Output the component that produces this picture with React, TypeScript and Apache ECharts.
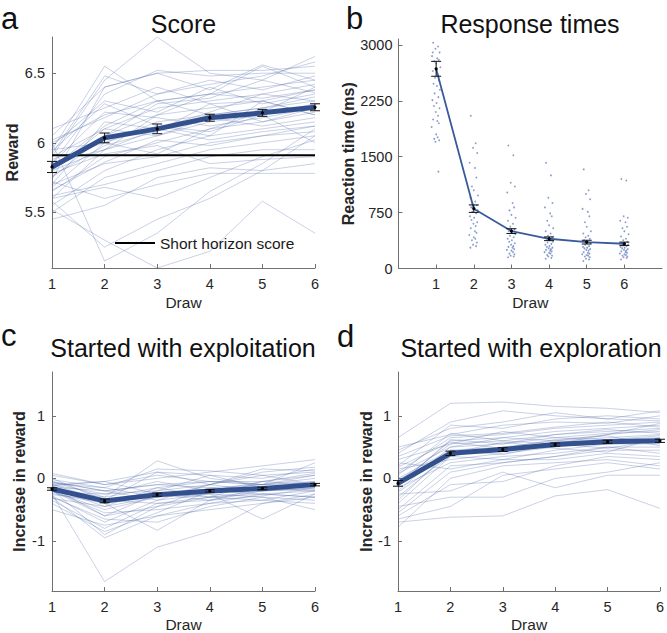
import React, { useEffect, useRef } from 'react';
import * as echarts from 'echarts';

const FONT = "'Liberation Sans', Arial, Helvetica, sans-serif";

const draws = [1, 2, 3, 4, 5, 6];

// Panel a: Score
const scoreTicks = [5.5, 6, 6.5];
const scoreMean = [5.826, 6.035, 6.1, 6.18, 6.215, 6.255];
const scoreSem = [0.04, 0.035, 0.035, 0.025, 0.025, 0.025];
const shortHorizonScore = 5.91;
const scoreSubjects = [
  [5.95, 6.55, 6.3, 6.35, 6.55, 6.4],
  [5.9, 6.45, 6.76, 6.5, 6.45, 6.62],
  [6.05, 6.4, 6.5, 6.52, 6.52, 6.55],
  [5.85, 6.35, 6.52, 6.48, 6.5, 6.5],
  [6.0, 6.2, 6.3, 6.35, 6.4, 6.45],
  [5.8, 6.1, 6.25, 6.3, 6.35, 6.42],
  [5.75, 6.05, 6.2, 6.25, 6.3, 6.38],
  [5.7, 6.15, 6.1, 6.22, 6.35, 6.3],
  [5.95, 6.0, 6.15, 6.2, 6.25, 6.33],
  [5.6, 5.95, 6.05, 6.15, 6.2, 6.28],
  [5.85, 6.22, 6.18, 6.12, 6.18, 6.25],
  [5.65, 5.9, 6.0, 6.1, 6.15, 6.22],
  [6.1, 6.25, 6.4, 6.28, 6.3, 6.2],
  [5.9, 6.1, 6.05, 6.18, 6.12, 6.18],
  [5.55, 5.8, 5.95, 6.05, 6.1, 6.15],
  [5.8, 5.95, 6.1, 6.02, 6.08, 6.12],
  [5.7, 5.85, 5.9, 6.0, 6.05, 6.08],
  [5.98, 6.3, 6.22, 6.4, 6.28, 6.35],
  [5.5, 5.75, 5.85, 5.95, 6.0, 6.05],
  [5.88, 6.0, 6.12, 6.08, 6.2, 6.0],
  [5.62, 5.7, 5.8, 5.9, 5.95, 5.95],
  [5.78, 5.92, 5.98, 5.85, 5.88, 5.9],
  [5.45, 5.55, 5.75, 5.82, 5.8, 5.85],
  [5.72, 5.6, 5.7, 5.78, 5.78, 5.78],
  [6.0, 5.15, 5.35, 5.65, 5.85, 6.1],
  [5.52, 5.3, 5.1, 5.22, 5.58, 5.35],
  [5.58, 5.25, 5.45, 5.6, 5.8, 6.05],
  [5.92, 6.48, 6.35, 6.45, 6.38, 6.48],
  [5.84, 6.05, 6.28, 6.32, 6.45, 6.36],
  [5.68, 6.0, 5.92, 6.1, 6.22, 6.4],
  [6.02, 6.18, 6.35, 6.42, 6.48, 6.58],
  [5.76, 5.98, 6.08, 6.28, 6.15, 6.25],
  [5.66, 5.86, 6.02, 5.98, 6.05, 6.12],
  [5.94, 6.28, 6.12, 6.05, 6.3, 6.2],
  [5.82, 6.12, 6.3, 6.2, 6.25, 6.3],
  [5.6, 5.68, 5.6, 5.75, 5.9, 6.02],
  [5.74, 6.4, 6.5, 6.38, 6.56, 6.45],
  [5.86, 5.95, 6.2, 6.35, 6.32, 6.38],
];

// Panel b: Response times
const rtTicks = [0, 750, 1500, 2250, 3000];
const rtMean = [2680, 803, 502, 399, 354, 332];
const rtSem = [100, 50, 32, 25, 25, 22];
const rtJitter = [
  -0.08, 0.05, -0.02, 0.09, -0.11, 0.03, 0.07, -0.05, 0.0, 0.11, -0.09, 0.04,
  -0.03, 0.08, -0.07, 0.02, 0.1, -0.04, 0.06, -0.1, 0.01, -0.06, 0.09, -0.01,
  0.05, -0.08, 0.03, 0.07, -0.12, 0.0, 0.04, -0.05, 0.08, -0.02, 0.06, -0.09,
];
const rtDraw1 = [3030, 2980, 2950, 2900, 2850, 2820, 2800, 2780, 2750, 2700, 2650, 2600, 2560, 2520, 2480, 2450, 2400, 2350, 2300, 2260, 2220, 2180, 2150, 2100, 2050, 2000, 1980, 1950, 1900, 1800, 1760, 1740, 1720, 1700, 1300, 2900];
const rtDraw2 = [2050, 1680, 1620, 1550, 1420, 1350, 1220, 1100, 1050, 980, 950, 900, 870, 850, 820, 800, 780, 760, 740, 700, 680, 650, 620, 600, 570, 540, 500, 480, 450, 420, 400, 380, 350, 320, 300, 280];
const rtDraw3 = [1650, 1520, 1150, 1100, 1020, 880, 820, 780, 720, 680, 640, 600, 560, 520, 500, 480, 460, 440, 420, 400, 380, 360, 340, 320, 300, 290, 280, 260, 250, 240, 220, 200, 190, 170, 160, 150];
const rtDraw4 = [1420, 1250, 950, 880, 820, 740, 700, 640, 580, 540, 500, 470, 440, 420, 400, 380, 360, 350, 330, 320, 300, 290, 280, 270, 260, 250, 240, 230, 220, 210, 200, 180, 170, 160, 140, 130];
const rtDraw5 = [1330, 1050, 1000, 930, 800, 760, 700, 620, 560, 500, 470, 440, 420, 400, 380, 360, 340, 320, 300, 290, 280, 270, 260, 250, 240, 220, 210, 200, 190, 180, 170, 160, 150, 130, 120, 100];
const rtDraw6 = [1200, 1180, 700, 680, 640, 620, 560, 540, 500, 460, 430, 400, 380, 360, 340, 330, 320, 310, 300, 290, 280, 270, 260, 250, 240, 230, 220, 210, 200, 190, 180, 170, 160, 150, 140, 120];
const rtByDraw = [rtDraw1, rtDraw2, rtDraw3, rtDraw4, rtDraw5, rtDraw6];

// Panels c, d
const gainTicks = [-1, 0, 1];
const exploitMean = [-0.17, -0.36, -0.26, -0.2, -0.16, -0.1];
const exploitSem = [0.02, 0.03, 0.025, 0.02, 0.02, 0.02];
const exploitSubjects = [
  [-0.1, -0.35, -0.25, -0.2, -0.15, -0.1],
  [-0.2, -0.5, -0.3, -0.18, -0.1, -0.05],
  [-0.05, -0.2, -0.1, -0.15, -0.2, -0.12],
  [0.05, -0.1, 0.05, -0.05, -0.1, 0.0],
  [-0.3, -0.95, -0.6, -0.4, -0.25, -0.2],
  [-0.15, -0.6, -0.45, -0.3, -0.2, -0.15],
  [-0.25, -1.65, -1.1, -0.85, -0.4, -0.3],
  [-0.1, -0.05, 0.1, 0.05, 0.0, 0.15],
  [-0.18, -0.3, 0.28, 0.0, -0.1, 0.05],
  [-0.35, -0.8, -0.4, -0.3, -0.25, -0.3],
  [-0.12, -0.4, -0.83, -0.35, -0.15, -0.2],
  [-0.22, -0.25, -0.2, -0.1, 0.05, 0.1],
  [-0.08, -0.15, -0.3, -0.25, -0.65, -0.25],
  [-0.28, -0.7, -0.35, -0.25, -0.3, -0.5],
  [-0.16, -0.45, -0.15, -0.05, -0.1, 0.25],
  [0.08, -0.1, 0.0, 0.1, 0.2, 0.3],
  [-0.2, -0.55, -0.5, -0.4, -0.35, -0.4],
  [-0.4, -0.85, -0.55, -0.2, -0.05, 0.05],
  [-0.14, -0.2, -0.35, -0.1, -0.2, -0.15],
  [-0.05, -0.3, -0.15, -0.3, -0.05, -0.1],
  [-0.3, -0.65, -0.7, -0.45, -0.3, -0.35],
  [-0.24, -0.4, -0.2, 0.05, -0.15, -0.05],
  [-0.1, -0.25, -0.05, -0.2, -0.25, -0.3],
  [-0.5, -0.75, -0.6, -0.5, -0.4, -0.25],
  [-0.02, -0.15, 0.15, 0.12, 0.05, -0.1],
  [-0.26, -0.35, -0.4, -0.35, -0.2, -0.18],
  [-0.18, -0.9, -0.45, -0.15, -0.1, -0.08],
  [-0.12, -0.05, -0.25, -0.3, -0.35, -0.2],
  [-0.32, -0.45, -0.3, -0.1, 0.1, 0.18],
  [-0.06, -0.2, -0.1, -0.05, -0.05, 0.08],
  [-0.2, -0.6, -0.25, -0.35, -0.28, -0.15],
  [0.0, -0.35, 0.1, -0.1, 0.15, 0.12],
];

const exploreMean = [-0.08, 0.4, 0.46, 0.54, 0.585, 0.6];
const exploreSem = [0.045, 0.035, 0.03, 0.025, 0.025, 0.025];
const exploreSubjects = [
  [0.65, 1.2, 1.22, 1.15, 1.12, 1.05],
  [0.4, 0.9, 1.08, 1.0, 0.95, 1.08],
  [0.2, 0.85, 0.8, 0.95, 1.0, 0.95],
  [0.5, 0.7, 0.85, 0.9, 0.88, 1.0],
  [0.1, 0.65, 0.7, 0.8, 0.85, 0.9],
  [-0.1, 0.6, 0.65, 0.75, 0.8, 0.85],
  [0.3, 0.55, 0.6, 0.7, 0.75, 0.8],
  [-0.2, 0.5, 0.55, 0.65, 0.72, 0.75],
  [0.0, 0.45, 0.5, 0.6, 0.65, 0.7],
  [-0.3, 0.4, 0.45, 0.58, 0.62, 0.65],
  [0.15, 0.3, 0.4, 0.5, 0.6, 0.6],
  [-0.4, 0.35, 0.3, 0.45, 0.55, 0.55],
  [-0.15, 0.25, 0.35, 0.4, 0.5, 0.5],
  [-0.5, 0.2, 0.25, 0.35, 0.45, 0.45],
  [0.25, 0.15, 0.3, 0.3, 0.4, 0.35],
  [-0.6, -0.1, -0.05, 0.2, 0.35, 0.3],
  [-0.7, -0.62, -0.6, -0.28, -0.18, -0.48],
  [-0.45, -0.3, -0.3, 0.0, 0.1, 0.25],
  [-0.78, 0.0, 0.2, 0.25, 0.3, 0.2],
  [-0.25, -0.2, 0.1, -0.15, 0.05, 0.05],
  [0.05, 0.72, 0.6, 0.55, 0.7, 0.78],
  [-0.05, 0.55, 0.75, 0.65, 0.62, 0.68],
  [0.35, 0.68, 0.72, 0.82, 0.9, 0.82],
  [-0.35, 0.45, 0.38, 0.55, 0.48, 0.62],
  [-0.55, 0.1, 0.25, 0.35, 0.5, 0.4],
  [0.45, 0.8, 0.9, 1.05, 0.95, 0.92],
  [-0.12, 0.62, 0.55, 0.7, 0.78, 0.72],
  [0.08, 0.5, 0.65, 0.6, 0.7, 0.88],
  [-0.65, -0.45, 0.05, 0.15, 0.25, 0.15],
  [-0.22, 0.35, 0.5, 0.52, 0.58, 0.58],
  [0.18, 0.58, 0.48, 0.62, 0.68, 0.52],
  [-0.02, 0.4, 0.58, 0.48, 0.42, 0.65],
];

const AXIS_COLOR = '#707070';
const TEXT_COLOR = '#262626';
const THIN_COLOR = 'rgba(70,100,165,0.33)';
const MEAN_COLOR = '#33508e';

const plainLabel = (v: number) => String(v);

function xAxisFor(gridIndex: number, min: number, max: number, nameGap: number) {
  return {
    type: 'value', gridIndex, min, max,
    axisLine: { show: true, onZero: false, lineStyle: { color: AXIS_COLOR, width: 1 } },
    axisTick: { show: true, inside: true, length: 4, customValues: draws, lineStyle: { color: AXIS_COLOR } },
    axisLabel: { customValues: draws, margin: 8, fontSize: 14.5, color: TEXT_COLOR, fontFamily: FONT, formatter: plainLabel },
    splitLine: { show: false },
    name: 'Draw', nameLocation: 'middle', nameGap,
    nameTextStyle: { fontSize: 15.5, color: TEXT_COLOR, fontFamily: FONT },
  };
}

function yAxisFor(gridIndex: number, min: number, max: number, ticks: number[], name: string, nameGap: number, margin: number) {
  return {
    type: 'value', gridIndex, min, max,
    axisLine: { show: true, onZero: false, lineStyle: { color: AXIS_COLOR, width: 1 } },
    axisTick: { show: true, inside: true, length: 4, customValues: ticks, lineStyle: { color: AXIS_COLOR } },
    axisLabel: { customValues: ticks, margin, fontSize: 14.5, color: TEXT_COLOR, fontFamily: FONT, formatter: plainLabel },
    splitLine: { show: false },
    name, nameLocation: 'middle', nameGap,
    nameTextStyle: { fontSize: 16, fontWeight: 'bold', color: TEXT_COLOR, fontFamily: FONT },
  };
}

function thinLines(idx: number, subjects: number[][]) {
  return subjects.map((s) => ({
    type: 'line', xAxisIndex: idx, yAxisIndex: idx,
    data: s.map((v, i) => [draws[i], v]),
    symbol: 'none', silent: true, z: 1,
    lineStyle: { color: THIN_COLOR, width: 0.9 },
  }));
}

function meanLine(idx: number, mean: number[], width: number, color: string) {
  return {
    type: 'line', xAxisIndex: idx, yAxisIndex: idx,
    data: mean.map((v, i) => [draws[i], v]),
    symbol: 'none', silent: true, z: 3,
    lineStyle: { color, width },
  };
}

function errorBars(idx: number, mean: number[], sem: number[], cap: number) {
  return {
    type: 'custom', xAxisIndex: idx, yAxisIndex: idx, z: 5, silent: true,
    data: mean.map((v, i) => [draws[i], v, sem[i]]),
    renderItem: (params: any, api: any) => {
      const x = api.value(0), y = api.value(1), e = api.value(2);
      const top = api.coord([x, y + e]);
      const bot = api.coord([x, y - e]);
      const c = api.coord([x, y]);
      const st = { stroke: '#111', lineWidth: 1 };
      return {
        type: 'group',
        children: [
          { type: 'line', shape: { x1: top[0], y1: top[1], x2: bot[0], y2: bot[1] }, style: st },
          { type: 'line', shape: { x1: top[0] - cap, y1: top[1], x2: top[0] + cap, y2: top[1] }, style: st },
          { type: 'line', shape: { x1: bot[0] - cap, y1: bot[1], x2: bot[0] + cap, y2: bot[1] }, style: st },
          { type: 'circle', shape: { cx: c[0], cy: c[1], r: 1.6 }, style: { fill: '#000' } },
        ],
      };
    },
  };
}

function buildOption() {
  const rtPoints: number[][] = [];
  rtByDraw.forEach((vals, d) => {
    vals.forEach((v, i) => rtPoints.push([draws[d] + rtJitter[i], v]));
  });

  const titleStyle = { fontSize: 25, fontWeight: 'normal', color: '#111', fontFamily: FONT };
  const letterStyle = (t: string) => ({ text: t, fontSize: 31, fill: '#111', fontFamily: FONT });

  return {
    animation: false,
    title: [
      { text: 'Score', left: 178.5, top: 6, textAlign: 'center', textStyle: titleStyle },
      { text: 'Response times', left: 525, top: 6, textAlign: 'center', textStyle: titleStyle },
      { text: 'Started with exploitation', left: 178, top: 330, textAlign: 'center', textStyle: titleStyle },
      { text: 'Started with exploration', left: 526, top: 330, textAlign: 'center', textStyle: titleStyle },
    ],
    graphic: [
      { type: 'text', x: 1, y: 3, style: letterStyle('a') },
      { type: 'text', x: 346, y: 3, style: letterStyle('b') },
      { type: 'text', x: 1, y: 320, style: letterStyle('c') },
      { type: 'text', x: 337, y: 321, style: letterStyle('d') },
    ],
    legend: {
      data: ['Short horizon score'], left: 115, top: 235, padding: 0,
      icon: 'rect', itemWidth: 40, itemHeight: 2, selectedMode: false,
      textStyle: { fontSize: 15.5, color: '#1a1a1a', fontFamily: FONT },
    },
    grid: [
      { left: 52, top: 37, width: 263, height: 231 },
      { left: 398.5, top: 39, width: 263.5, height: 229.5 },
      { left: 52, top: 372, width: 263, height: 222 },
      { left: 398, top: 372, width: 264, height: 222 },
    ],
    xAxis: [
      xAxisFor(0, 1, 6, 26),
      xAxisFor(1, 0, 7, 26),
      xAxisFor(2, 1, 6, 25),
      xAxisFor(3, 1, 6, 25),
    ],
    yAxis: [
      yAxisFor(0, 5.1, 6.76, scoreTicks, 'Reward', 29, 7),
      yAxisFor(1, 0, 3080, rtTicks, 'Reaction time (ms)', 42, 6),
      yAxisFor(2, -1.8, 1.7, gainTicks, 'Increase in reward', 25, 7),
      yAxisFor(3, -1.8, 1.7, gainTicks, 'Increase in reward', 23, 7),
    ],
    series: [
      ...thinLines(0, scoreSubjects),
      {
        name: 'Short horizon score', type: 'line', xAxisIndex: 0, yAxisIndex: 0,
        data: [[1, shortHorizonScore], [6, shortHorizonScore]],
        symbol: 'none', silent: true, z: 2,
        lineStyle: { color: '#000', width: 2 }, itemStyle: { color: '#000' },
      },
      meanLine(0, scoreMean, 5, MEAN_COLOR),
      errorBars(0, scoreMean, scoreSem, 5),

      {
        type: 'scatter', xAxisIndex: 1, yAxisIndex: 1, data: rtPoints,
        symbolSize: 1.8, silent: true, z: 1,
        itemStyle: { color: 'rgba(70,100,175,0.8)' },
      },
      meanLine(1, rtMean, 1.8, '#3a5a9e'),
      errorBars(1, rtMean, rtSem, 5),

      ...thinLines(2, exploitSubjects),
      meanLine(2, exploitMean, 5, MEAN_COLOR),
      errorBars(2, exploitMean, exploitSem, 5),

      ...thinLines(3, exploreSubjects),
      meanLine(3, exploreMean, 5, MEAN_COLOR),
      errorBars(3, exploreMean, exploreSem, 5),
    ],
  };
}

export default function App() {
  const ref = useRef<HTMLDivElement>(null);
  useEffect(() => {
    if (!ref.current) return;
    const chart = echarts.init(ref.current, undefined, { renderer: 'svg' });
    chart.setOption(buildOption() as any);
    return () => chart.dispose();
  }, []);
  return (
    <div
      ref={ref}
      style={{ position: 'fixed', left: 0, top: 0, width: 667, height: 633, background: '#fff' }}
    />
  );
}
